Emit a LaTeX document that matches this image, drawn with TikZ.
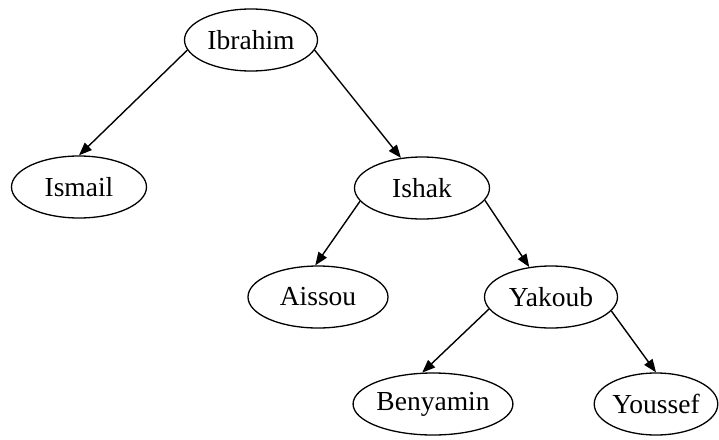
\documentclass[tikz,border=0pt]{standalone}
\usepackage{fontspec}
\setmainfont{Liberation Serif}
\usetikzlibrary{arrows.meta,shapes.geometric}
\begin{document}
\begin{tikzpicture}[x=1pt, y=-1pt,
        person/.style={draw, ellipse, line width=1.3pt, inner sep=0pt,
            minimum height=62pt, font=\fontsize{27.5}{30}\selectfont},
        child/.style={-{Triangle[length=13pt,width=10pt]}, line width=1.4pt}]
        \useasboundingbox (0,0) rectangle (719,439);
        \node[person, minimum width=133pt] (ibrahim) at (251,40) {Ibrahim};
        \node[person, minimum width=135pt] (ismail) at (79,187) {Ismail};
        \node[person, minimum width=135pt] (ishak) at (422,188) {Ishak};
        \node[person, minimum width=140pt] (aissou) at (318,297) {Aissou};
        \node[person, minimum width=133pt] (yakoub) at (551,297) {Yakoub};
        \node[person, minimum width=153pt] (benyamin) at (433,404) {Benyamin};
        \node[person, minimum width=123pt] (youssef) at (656,404) {Youssef};
        % fils
        \draw[child] (ibrahim.189) -- (ismail.north);
        \draw[child] (ibrahim.351) -- (ishak.125);
        \draw[child] (ishak.192) -- (aissou.95);
        \draw[child] (ishak.349) -- (yakoub.126);
        \draw[child] (yakoub.191) -- (benyamin.109);
        \draw[child] (yakoub.347) -- (youssef.north);
    \end{tikzpicture}
\end{document}
